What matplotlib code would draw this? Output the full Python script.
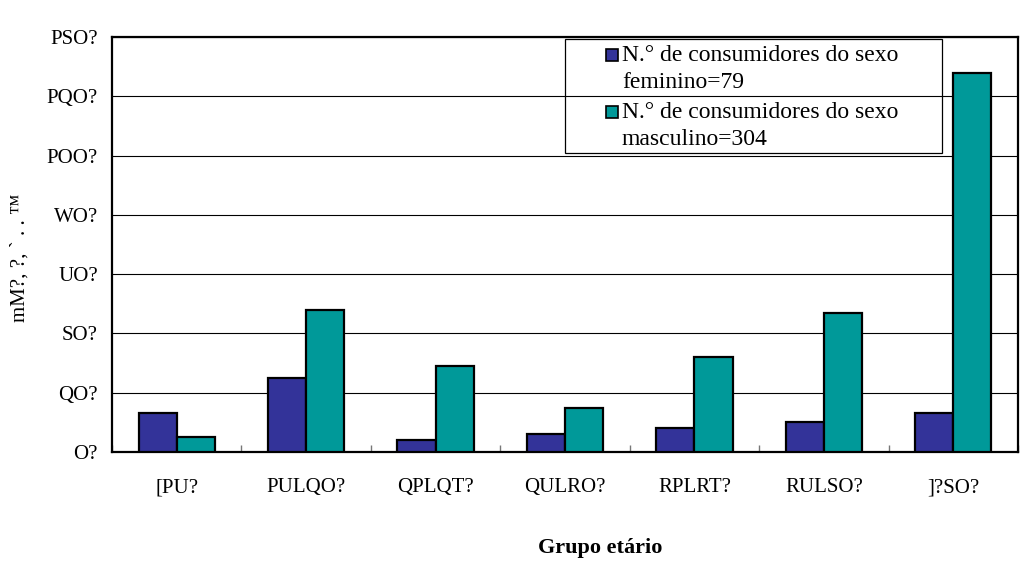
import matplotlib
matplotlib.use("Agg")
import matplotlib.pyplot as plt
from matplotlib.patches import Rectangle
import numpy as np

categories = ["[PU?", "PULQO?", "QPLQT?", "QULRO?", "RPLRT?", "RULSO?", "]?SO?"]
female = [13, 25, 4, 6, 8, 10, 13]
male = [5, 48, 29, 15, 32, 47, 128]
ytick_vals = [0, 20, 40, 60, 80, 100, 120, 140]
ytick_labels = ["O?", "QO?", "SO?", "UO?", "WO?", "POO?", "PQO?", "PSO?"]
legend_labels = ["N.\u00b0 de consumidores do sexo\nfeminino=79",
                 "N.\u00b0 de consumidores do sexo\nmasculino=304"]
colors = ["#333399", "#009999"]

W, H = 1029, 565
fig = plt.figure(figsize=(W / 100, H / 100), dpi=100)
ax = fig.add_axes([112 / W, 1 - 452 / H, (1018 - 112) / W, (452 - 37) / H])

serif = "Liberation Serif"
x = np.arange(len(categories))
bw = 0.295
ax.bar(x - bw / 2, female, bw, color=colors[0], edgecolor="black", linewidth=1.6, zorder=3)
ax.bar(x + bw / 2, male, bw, color=colors[1], edgecolor="black", linewidth=1.6, zorder=3)

ax.set_xlim(-0.5, len(categories) - 0.5)
ax.set_ylim(0, 140)
ax.set_yticks(ytick_vals)
ax.set_yticklabels(ytick_labels, fontfamily=serif, fontsize=15)
ax.set_xticks(x)
ax.set_xticklabels(categories, fontfamily=serif, fontsize=15)
ax.set_xticks(np.arange(len(categories) + 1) - 0.5, minor=True)
ax.tick_params(axis="x", which="major", length=0, pad=19)
ax.tick_params(axis="x", which="minor", length=5, direction="in", color="#777777", width=1)
ax.tick_params(axis="y", length=0, pad=10)
ax.yaxis.grid(True, color="black", linewidth=0.8, zorder=0)
for s in ax.spines.values():
    s.set_linewidth(1.6)
    s.set_color("black")

fig.text(600 / W, 1 - 548 / H, "Grupo et\u00e1rio", ha="center", va="center",
         fontfamily=serif, fontsize=16, fontweight="bold")
fig.text(20 / W, 1 - 258 / H, "mM?, ?, ` . . \u2122", rotation=90, ha="center", va="center",
         fontfamily=serif, fontsize=15)

# legend drawn manually
fig.patches.append(Rectangle((565 / W, 1 - 153 / H), (942 - 565) / W, (153 - 39) / H,
                             transform=fig.transFigure, fill=False, edgecolor="black",
                             linewidth=0.9, zorder=5))
tops = [55, 112]
for lab, c, yt in zip(legend_labels, colors, tops):
    fig.patches.append(Rectangle((606 / W, 1 - (yt + 6) / H), 12 / W, 12 / H,
                                 transform=fig.transFigure, facecolor=c, edgecolor="black",
                                 linewidth=1.2, zorder=6))
    fig.text(622 / W, 1 - (yt - 10) / H, lab, ha="left", va="top", fontfamily=serif,
             fontsize=17, linespacing=1.38, zorder=6)

fig.savefig("out.png", dpi=100)
